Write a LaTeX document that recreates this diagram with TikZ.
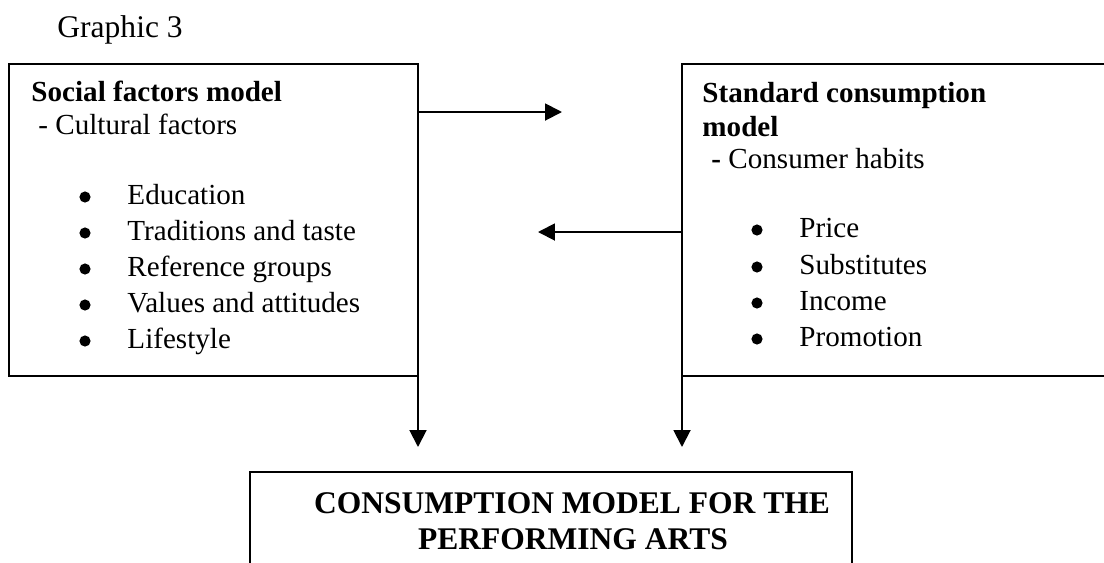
\documentclass[tikz,border=0pt]{standalone}
\usepackage{fontspec}
\setmainfont{Liberation Serif}
\usetikzlibrary{arrows.meta,positioning,calc,fit}
\tikzset{
  modbox/.style={draw, line width=0.8pt, inner sep=0pt, outer sep=0pt},
  flowarr/.style={-{Triangle[length=7pt,width=7pt]}, line width=0.8pt},
  txt/.style={anchor=base west, inner sep=0pt, font=\fontsize{12}{14}\selectfont},
  hd/.style={txt, font=\fontsize{12}{14}\selectfont\bfseries},
  ttl/.style={anchor=base west, inner sep=0pt, font=\fontsize{13}{15}\selectfont},
  bighd/.style={anchor=base, inner sep=0pt, font=\fontsize{13}{15}\selectfont\bfseries},
  dot/.style={circle, fill, inner sep=0pt, minimum size=4.6pt},
}

\begin{document}
\begin{tikzpicture}[x=0.0145cm, y=-0.0145cm]
        \useasboundingbox (0,0) rectangle (1104,562);
        \clip (0,0) rectangle (1104,562);
        \node[ttl] (title) at (57,37) {Graphic 3};
        % social factors
        \node[modbox, fit={(9,64) (418,376)}] (social) {};
        \node[hd] (socialhd) at (31,101) {Social factors model};
        \node[txt] (cultural) at (38,134) {- Cultural factors};
        \node[dot] (sd1) at (85,197) {}; \node[txt] (si1) at (127,204) {Education};
        \node[dot] (sd2) at (85,233) {}; \node[txt] (si2) at (127,240) {Traditions and taste};
        \node[dot] (sd3) at (85,269) {}; \node[txt] (si3) at (127,276) {Reference groups};
        \node[dot] (sd4) at (85,305) {}; \node[txt] (si4) at (127,312) {Values and attitudes};
        \node[dot] (sd5) at (85,341) {}; \node[txt] (si5) at (127,348) {Lifestyle};
        % standard consumption
        \node[modbox, fit={(682,64) (1120,376)}] (std) {};
        \node[hd] (stdhd) at (702,102) {Standard consumption};
        \node[hd] (stdhd2) at (702,136) {model};
        \node[txt] (habits) at (711,168) {\textbf{-} Consumer habits};
        \node[dot] (cd1) at (757,230) {}; \node[txt] (ci1) at (799,237) {Price};
        \node[dot] (cd2) at (757,267) {}; \node[txt] (ci2) at (799,274) {Substitutes};
        \node[dot] (cd3) at (757,303) {}; \node[txt] (ci3) at (799,310) {Income};
        \node[dot] (cd4) at (757,339) {}; \node[txt] (ci4) at (799,346) {Promotion};
        % performing arts
        \node[modbox, fit={(250,472) (852,600)}] (perf) {};
        \node[bighd] (perfhd) at (572,513) {CONSUMPTION MODEL FOR THE};
        \node[bighd] (perfhd2) at (573,549) {PERFORMING ARTS};
        % arrows
        \coordinate (a1) at (562,112); \coordinate (a2) at (538,232);
        \coordinate (a3) at (418,447); \coordinate (a4) at (682,447);
        \draw[flowarr] (social.east |- a1) -- (a1);
        \draw[flowarr] (std.west |- a2) -- (a2);
        \draw[flowarr] (social.south east) -- (a3);
        \draw[flowarr] (std.south west) -- (a4);
      \end{tikzpicture}
\end{document}
